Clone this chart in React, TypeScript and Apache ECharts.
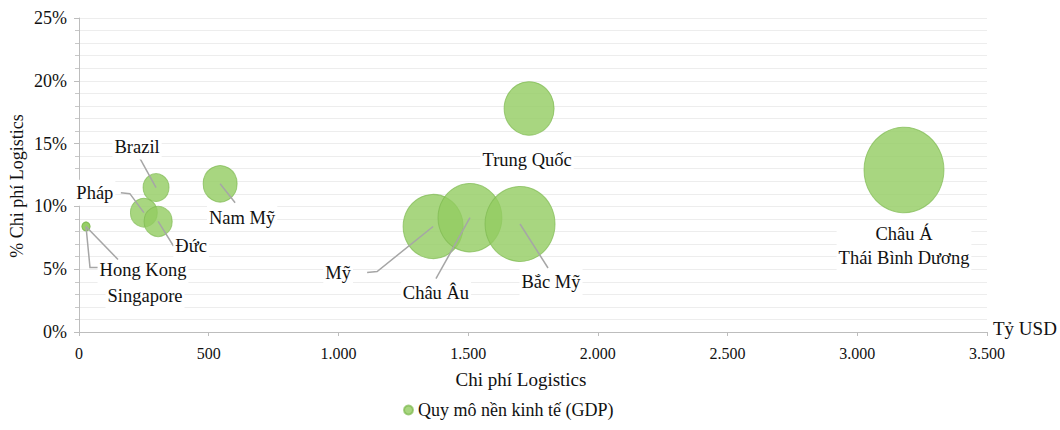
import React, { useEffect, useRef } from "react";
import * as echarts from "echarts";

// Data
const names = [
  "Hong Kong",
  "Singapore",
  "Pháp",
  "Đức",
  "Brazil",
  "Nam Mỹ",
  "Mỹ",
  "Châu Âu",
  "Bắc Mỹ",
  "Trung Quốc",
  "Châu Á\nThái Bình Dương",
];
const logisticsCost = [27, 27, 250, 305, 297, 544, 1365, 1507, 1700, 1735, 3180]; // tỷ USD
const logisticsPct = [8.4, 8.4, 9.5, 8.8, 11.5, 11.8, 8.4, 9.1, 8.6, 17.8, 12.9]; // %
const gdp = [0.27, 0.27, 3.0, 3.3, 2.8, 4.8, 15.0, 17.0, 20.4, 10.4, 26.6]; // nghìn tỷ USD
const xTicks = [0, 500, 1000, 1500, 2000, 2500, 3000, 3500];
const yTicks = [0, 5, 10, 15, 20, 25];

// Label layout (pixel offsets from bubble centre): leader line points, text position
const labelLayout: { line: number[][]; text: number[] }[] = [
  { line: [[0, 0], [4, 41], [12, 41]], text: [57, 44] },
  { line: [[0, 0], [32, 33]], text: [59, 70] },
  { line: [[0, 0], [-14, -19], [-23, -20]], text: [-49, -20] },
  { line: [[0, 0], [15, 24], [23, 24]], text: [33, 25] },
  { line: [[0, 0], [-16, -29]], text: [-19, -41] },
  { line: [[0, 0], [15, 19]], text: [22, 34] },
  { line: [[0, 0], [-56, 45], [-66, 46]], text: [-95, 47] },
  { line: [[0, 0], [-34, 61]], text: [-34, 75] },
  { line: [[0, 0], [28, 44]], text: [31, 58] },
  { line: [], text: [-2, 52] },
  { line: [], text: [0, 76] },
];

const FONT = "Liberation Serif";
const sizeOf = (g: number) => 15.5 * Math.sqrt(g);

export default function App() {
  const ref = useRef<HTMLDivElement>(null);
  useEffect(() => {
    if (!ref.current) return;
    const chart = echarts.init(ref.current, undefined, { renderer: "svg" });
    const points = names.map((n, i) => [logisticsCost[i], logisticsPct[i], gdp[i], i]);
    const fmt = (v: number) => String(v).replace(/\B(?=(\d{3})+(?!\d))/g, ".");
    chart.setOption({
      animation: false,
      textStyle: { fontFamily: FONT },
      grid: { left: 79, right: 73, top: 18, bottom: 98, containLabel: false },
      xAxis: {
        type: "value",
        min: xTicks[0],
        max: xTicks[xTicks.length - 1],
        interval: 500,
        name: "Chi phí Logistics",
        nameLocation: "middle",
        nameGap: 38,
        nameTextStyle: { fontFamily: FONT, fontSize: 19, color: "#111", padding: [0, 24, 0, 0] },
        axisLine: { show: true, lineStyle: { color: "#bdbdbd", width: 1 } },
        axisTick: { show: true, length: 4, lineStyle: { color: "#bdbdbd" } },
        axisLabel: { fontFamily: FONT, fontSize: 16, color: "#111", margin: 13, formatter: fmt },
        splitLine: { show: false },
      },
      yAxis: {
        type: "value",
        min: yTicks[0],
        max: yTicks[yTicks.length - 1],
        interval: 5,
        axisLine: { show: true, lineStyle: { color: "#bdbdbd", width: 1 } },
        axisTick: { show: true, length: 5, lineStyle: { color: "#bdbdbd" } },
        minorTick: { show: true, splitNumber: 5, length: 4, lineStyle: { color: "#c8c8c8" } },
        axisLabel: { fontFamily: FONT, fontSize: 18, color: "#111", margin: 12, formatter: "{value}%" },
        splitLine: { show: true, lineStyle: { color: "#ededed" } },
        minorSplitLine: { show: true, lineStyle: { color: "#ededed" } },
      },
      legend: {
        data: [{ name: "Quy mô nền kinh tế (GDP)", icon: "circle" }],
        top: 396,
        left: 398,
        itemWidth: 9,
        itemHeight: 9,
        itemGap: 6,
        textStyle: { fontFamily: FONT, fontSize: 18, color: "#111" },
      },
      graphic: [
        {
          type: "text",
          left: 993,
          top: 319,
          style: { text: "Tỷ USD", fontFamily: FONT, fontSize: 19, fill: "#111" },
        },
        {
          type: "text",
          x: 17,
          y: 186,
          rotation: Math.PI / 2,
          style: {
            text: "% Chi phí Logistics",
            fontFamily: FONT,
            fontSize: 18,
            fill: "#111",
            align: "center",
            verticalAlign: "middle",
          },
        },
      ],
      series: [
        {
          name: "Quy mô nền kinh tế (GDP)",
          type: "scatter",
          data: points,
          symbol: "circle",
          symbolSize: (v: number[]) => {
            const d = sizeOf(v[2]);
            return [d, d * 1.07];
          },
          itemStyle: {
            color: "rgba(146,204,96,0.8)",
            borderColor: "rgba(125,185,80,0.7)",
            borderWidth: 1,
            opacity: 1,
          },
          z: 2,
        },
        {
          type: "custom",
          name: "labels",
          data: points,
          z: 5,
          silent: true,
          renderItem: (params: any, api: any) => {
            const idx = api.value(3);
            const c = api.coord([api.value(0), api.value(1)]);
            const lay = labelLayout[idx];
            const children: any[] = [];
            if (lay.line.length) {
              children.push({
                type: "polyline",
                shape: { points: lay.line.map((p) => [c[0] + p[0], c[1] + p[1]]) },
                style: { stroke: "#a6a6a6", lineWidth: 1.5, fill: "none" },
              });
            }
            children.push({
              type: "text",
              x: c[0] + lay.text[0],
              y: c[1] + lay.text[1],
              style: {
                text: names[idx],
                fontFamily: FONT,
                fontSize: 18.5,
                fill: "#111",
                align: "center",
                verticalAlign: "middle",
                lineHeight: 24,
                backgroundColor: "#fff",
                padding: [1, 2],
              },
            });
            return { type: "group", children };
          },
        },
      ],
    });
    return () => chart.dispose();
  }, []);
  return (
    <div
      ref={ref}
      style={{ position: "absolute", left: 0, top: 0, width: 1060, height: 430 }}
    />
  );
}
